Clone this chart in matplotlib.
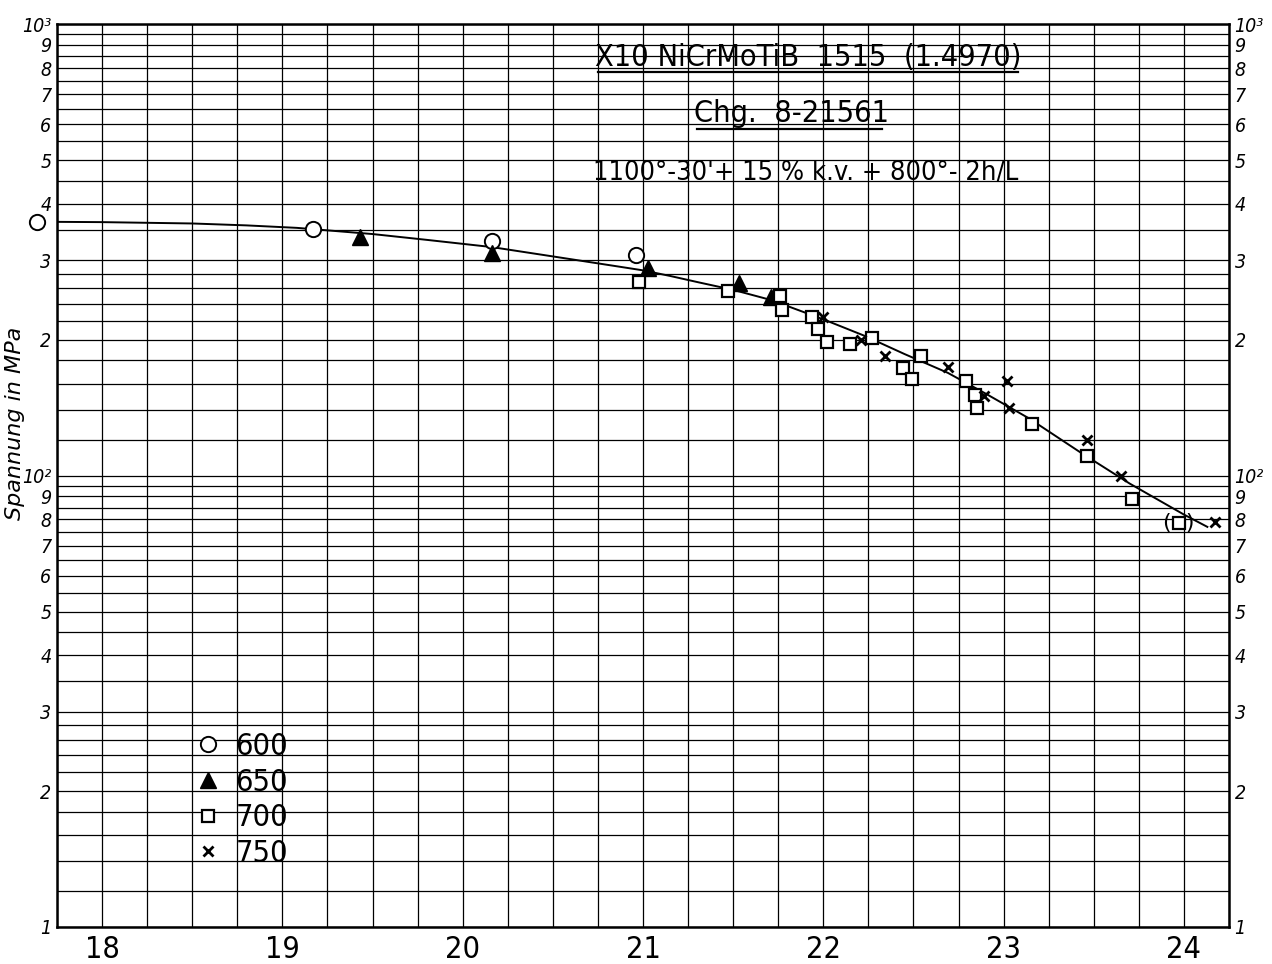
import numpy as np
import matplotlib
matplotlib.use("Agg")
import matplotlib.pyplot as plt
from matplotlib.lines import Line2D

# values: x = time-temperature parameter, y = stress in MPa
x600 = [17.64, 19.17, 20.16, 20.96]
y600 = [365, 352, 331, 308]

x650 = [19.43, 20.16, 21.03, 21.53, 21.71]
y650 = [338, 311, 288, 267, 249]

x700 = [20.98, 21.47, 21.76, 21.77, 21.94, 21.97, 22.02, 22.15, 22.27, 22.44,
        22.49, 22.54, 22.79, 22.84, 22.85, 23.16, 23.46, 23.71, 23.97]
y700 = [269, 256, 250, 233, 225, 211, 198, 195.5, 202, 173,
        163.5, 184, 162, 151, 141, 130, 110.4, 88.6, 78.5]

x750 = [22.00, 22.21, 22.34, 22.69, 22.89, 23.02, 23.03, 23.46, 23.65, 24.17]
y750 = [225, 200, 184, 174, 150, 162, 141, 120, 100, 79]

# hand-drawn mean curve
curve_x = [17.75, 18.0, 18.5, 18.8, 19.08, 19.5, 19.8, 20.16, 20.5, 20.83,
           21.0, 21.15, 21.31, 21.5, 21.71, 22.0, 22.23, 22.45, 22.69, 22.9,
           23.14, 23.42, 23.7, 24.0, 24.13]
curve_y = [365, 364.5, 362, 358.5, 354, 343, 333, 321, 306, 292,
           285, 277, 268, 258, 245, 222, 204, 186, 169, 152,
           134, 113, 96, 82, 77]

x_ticks = [18, 19, 20, 21, 22, 23, 24]
y_tick_vals = [10, 20, 30, 40, 50, 60, 70, 80, 90,
               100, 200, 300, 400, 500, 600, 700, 800, 900, 1000]
y_tick_text = ['1', '2', '3', '4', '5', '6', '7', '8', '9',
               '10²', '2', '3', '4', '5', '6', '7', '8', '9', '10³']
grid_mantissa = [1.2, 1.4, 1.6, 1.8, 2.2, 2.4, 2.6, 2.8, 3.5, 4.5, 5.5, 6.5, 7.5, 8.5, 9.5]

legend_labels = ['600', '650', '700', '750']

# narrow lettering like the stencil text of the original
cond = dict(family='DejaVu Sans', stretch='condensed')

W, H = 1272, 964
fig = plt.figure(figsize=(W / 100, H / 100), dpi=100)
ax = fig.add_axes([57 / W, 1 - 927 / H, (1229 - 57) / W, (927 - 24.3) / H])

ax.set_yscale('log')
ax.set_xlim(17.75, 24.25)
ax.set_ylim(10, 1000)

# grid like log paper
ax.set_xticks(x_ticks)
ax.set_xticks(np.arange(17.75, 24.26, 0.25), minor=True)
ax.set_yticks(y_tick_vals)
ax.set_yticks([m * d for d in (10, 100) for m in grid_mantissa], minor=True)
ax.set_xticklabels([str(t) for t in x_ticks], fontsize=22, **cond)
ax.set_yticklabels(y_tick_text, fontsize=14, fontstyle='italic', **cond)
ax.yaxis.set_minor_formatter(plt.NullFormatter())
ax.tick_params(which='both', length=0)
ax.tick_params(axis='x', pad=6)
ax.tick_params(axis='y', pad=4, labelright=True)
ax.grid(which='both', color='black', lw=0.9)
for s in ax.spines.values():
    s.set_linewidth(1.8)

# curve
ax.plot(curve_x, curve_y, color='black', lw=1.4, zorder=3)

# data
h600, = ax.plot(x600, y600, 'o', ms=11, mfc='white', mec='black', mew=1.4,
                ls='none', zorder=4, clip_on=False)
h650, = ax.plot(x650, y650, '^', ms=11, mfc='black', mec='black',
                ls='none', zorder=4)
h700, = ax.plot(x700, y700, 's', ms=9, mfc='white', mec='black', mew=1.6,
                ls='none', zorder=4)
h750, = ax.plot(x750, y750, 'x', ms=7, mec='black', mew=2,
                ls='none', zorder=4, clip_on=False)
ax.text(x700[-1], y700[-1], '(  )', ha='center', va='center', fontsize=16)

leg = ax.legend([h600, h650, h700, h750], legend_labels, loc='upper left',
                bbox_to_anchor=(0.1026, 0.233), frameon=False, handlelength=1.0,
                handletextpad=0.4, labelspacing=0.22, borderpad=0,
                prop=dict(size=22, **cond))

# headings
fig.text(808 / W, 1 - 57 / H, 'X10 NiCrMoTiB  1515  (1.4970)', ha='center', va='center',
         fontsize=22, **cond)
fig.text(792 / W, 1 - 113 / H, 'Chg.  8-21561', ha='center', va='center',
         fontsize=22, **cond)
fig.text(806 / W, 1 - 173 / H, "1100°-30'+ 15 % k.v. + 800°- 2h/L", ha='center', va='center',
         fontsize=19.5, **cond)
fig.add_artist(Line2D([598 / W, 1018 / W], [1 - 72 / H, 1 - 72 / H], color='black', lw=1.6))
fig.add_artist(Line2D([697 / W, 882 / W], [1 - 129 / H, 1 - 129 / H], color='black', lw=1.6))

fig.text(15 / W, 1 - 423 / H, 'Spannung in MPa', rotation=90, ha='center', va='center',
         fontsize=16, fontstyle='italic')

fig.savefig('out.png', dpi=100, facecolor='white')
